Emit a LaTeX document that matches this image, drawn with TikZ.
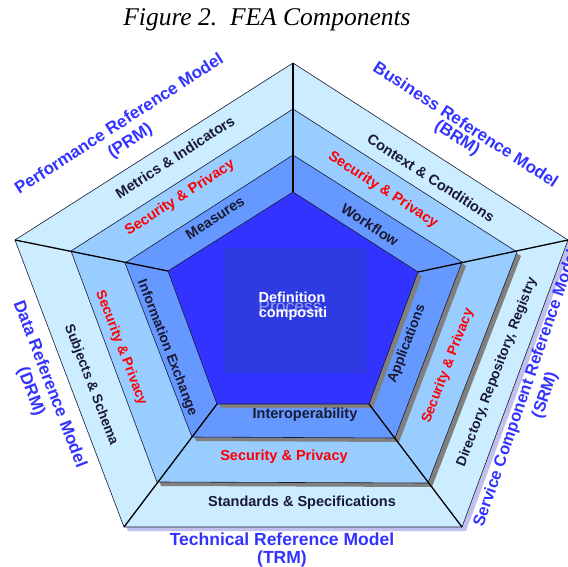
\documentclass[tikz,border=0pt]{standalone}
\usepackage{fontspec}
\setmainfont{Liberation Serif}
\setsansfont{Liberation Sans}
\usepackage{xcolor}
\usetikzlibrary{calc,positioning}

\definecolor{ringA}{RGB}{204,236,255}
\definecolor{ringB}{RGB}{153,204,255}
\definecolor{ringC}{RGB}{102,153,255}
\definecolor{core}{RGB}{51,51,255}
\definecolor{boxblue}{RGB}{46,58,226}
\definecolor{shadowgray}{RGB}{128,128,128}
\definecolor{shadowlav}{RGB}{192,192,238}
\definecolor{modelblue}{RGB}{51,51,255}
\definecolor{textdark}{RGB}{26,26,51}
\definecolor{secred}{RGB}{255,0,0}
\definecolor{faint}{RGB}{150,156,236}

\begin{document}
\begin{tikzpicture}[x=1pt,y=-1pt]
	\tikzstyle{every node}=[font=\sffamily\bfseries\fontsize{14.5}{17}\selectfont, inner sep=0pt]
	\tikzstyle{ring}=[draw=textdark, line width=0.6pt]
	\tikzstyle{spoke}=[draw=black, line width=1.3pt]
	\tikzstyle{layer}=[textdark]
	\tikzstyle{secure}=[secred]
	\tikzstyle{side}=[font=\sffamily\bfseries\fontsize{13.8}{16}\selectfont]
	\tikzstyle{model}=[modelblue, align=center, font=\sffamily\bfseries\fontsize{17}{20}\selectfont]
	\useasboundingbox (0,0) rectangle (568,567);

	% pentagon corners, outer ring to core
	\coordinate (t0) at (293,63);  \coordinate (l0) at (15,240);  \coordinate (r0) at (568,240);
	\coordinate (bl0) at (124,527); \coordinate (br0) at (462,527);
	\coordinate (t1) at (293,109); \coordinate (l1) at (71,251);  \coordinate (r1) at (517,252);
	\coordinate (bl1) at (157,482); \coordinate (br1) at (428,483);
	\coordinate (t2) at (293,155); \coordinate (l2) at (125,263); \coordinate (r2) at (462,262);
	\coordinate (bl2) at (192,437); \coordinate (br2) at (395,438);
	\coordinate (t3) at (293,192); \coordinate (l3) at (168,271); \coordinate (r3) at (418,272);
	\coordinate (bl3) at (217,404); \coordinate (br3) at (369,404);

	% shadow first, then the layer on top
	\foreach \k/\fc/\sc in {0/ringA/shadowlav, 1/ringB/shadowgray, 2/ringC/shadowgray, 3/core/shadowgray}{
		\fill [\sc] ([xshift=4pt,yshift=-4pt]t\k) -- ([xshift=4pt,yshift=-4pt]r\k) -- ([xshift=4pt,yshift=-4pt]br\k)
			-- ([xshift=4pt,yshift=-4pt]bl\k) -- ([xshift=4pt,yshift=-4pt]l\k) -- cycle;
		\filldraw [fill=\fc, ring] (t\k) -- (r\k) -- (br\k) -- (bl\k) -- (l\k) -- cycle;
	}
	\foreach \v in {t,l,r,bl,br}
		\draw [spoke] (\v0) -- (\v3);

	% centre
	\node (box) [fill=boxblue, minimum width=143pt, minimum height=125pt] at (295.5,310.5) {};
	\node (proc) [faint, font=\sffamily\fontsize{17.5}{20}\selectfont] at (290,307) {Process};
	\node (defn) [white] at (292,297) {Definition};
	\node (comp) [white] at (293,314) {compositi};

	% performance side
	\node (metrics) [layer, rotate=33] at (175,157) {Metrics \& Indicators};
	\node (secP) [secure, rotate=33] at (180,198) {Security \& Privacy};
	\node (measures) [layer, rotate=33] at (215,218) {Measures};
	% business side
	\node (context) [layer, rotate=-33] at (431,178) {Context \& Conditions};
	\node (secB) [secure, rotate=-33] at (383,190) {Security \& Privacy};
	\node (workflow) [layer, rotate=-33] at (370,225) {Workflow};
	% data side
	\node (subjects) [layer, side, rotate=-69] at (91,385) {Subjects \& Schema};
	\node (secD) [secure, side, rotate=-69] at (121,348) {Security \& Privacy};
	\node (exchange) [layer, side, rotate=-69] at (167,348) {Information Exchange};
	% service side
	\node (registry) [layer, side, rotate=69] at (497,372) {Directory, Repository, Registry};
	\node (secS) [secure, side, rotate=69] at (448,366) {Security \& Privacy};
	\node (apps) [layer, side, rotate=69] at (407,344) {Applications};
	% technical side
	\node (standards) [layer] at (302,503) {Standards \& Specifications};
	\node (secT) [secure] at (284,457) {Security \& Privacy};
	\node (interop) [layer] at (305,415) {Interoperability};

	% model names
	\node (prm) [model, rotate=33] at (125,133) {Performance Reference Model\\(PRM)};
	\node (brm) [model, rotate=-33, font=\sffamily\bfseries\fontsize{17}{15}\selectfont] at (461,132) {Business Reference Model\\(BRM)};
	\node (drm) [model, rotate=-69] at (40,388) {Data Reference Model\\(DRM)};
	\node (srm) [model, rotate=71, font=\sffamily\bfseries\fontsize{16.5}{20}\selectfont] at (536,392) {Service Component Reference Model\\(SRM)};
	\node (trm) [model, font=\sffamily\bfseries\fontsize{17.5}{18}\selectfont] at (282,550) {Technical Reference Model\\(TRM)};

	\node (title) [font=\rmfamily\itshape\fontsize{25.5}{30}\selectfont] at (267,20) {Figure 2.\ \ FEA Components};
\end{tikzpicture}
\end{document}
